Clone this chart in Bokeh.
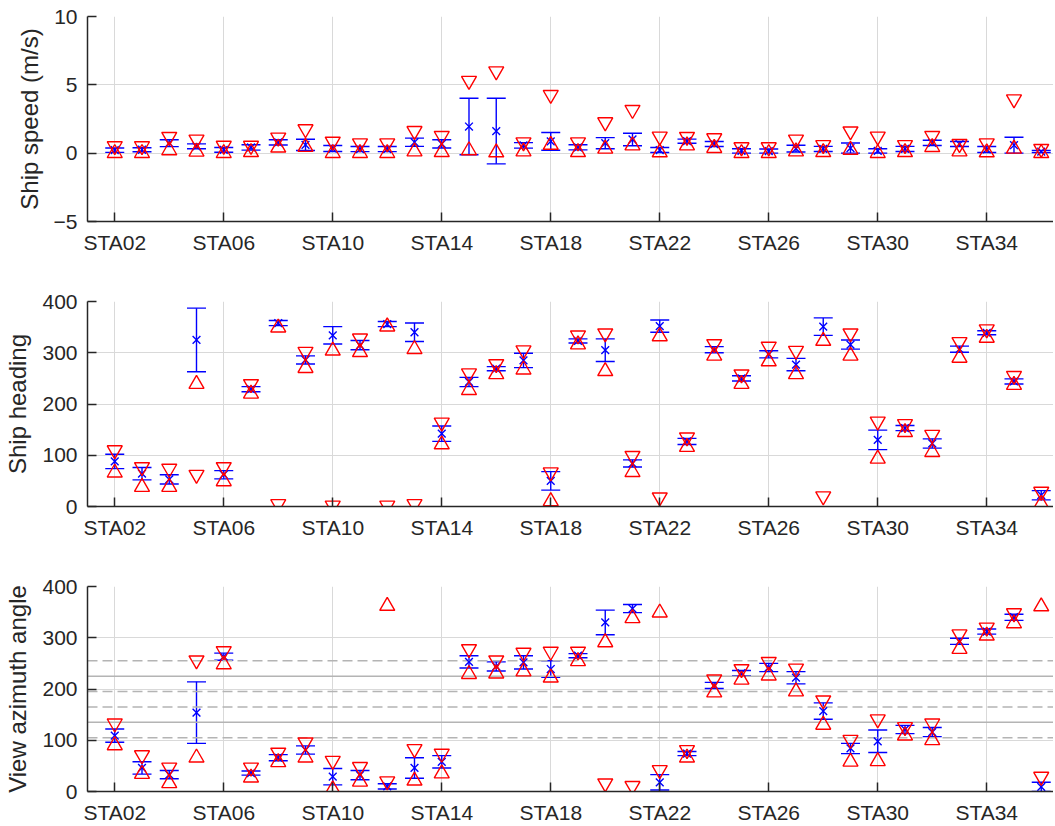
from bokeh.plotting import figure
from bokeh.layouts import column
from bokeh.models import Range1d, FixedTicker, Whisker, TeeHead, ColumnDataSource, Span
from bokeh.embed import file_html
from bokeh.resources import INLINE

stations = ["STA02", "STA03", "STA04", "STA05", "STA06", "STA07", "STA08", "STA09",
            "STA10", "STA11", "STA12", "STA13", "STA14", "STA15", "STA16", "STA17",
            "STA18", "STA19", "STA20", "STA21", "STA22", "STA23", "STA24", "STA25",
            "STA26", "STA27", "STA28", "STA29", "STA30", "STA31", "STA32", "STA33",
            "STA34", "STA35", "STA36"]
tick_labels = ["STA02", "STA06", "STA10", "STA14", "STA18", "STA22", "STA26", "STA30", "STA34"]

# Ship speed (m/s)
speed_mean = [0.22, 0.25, 0.73, 0.50, 0.24, 0.42, 0.79, 0.61, 0.34, 0.30, 0.30, 0.80,
              0.68, 1.95, 1.62, 0.57, 0.86, 0.43, 0.73, 1.00, 0.23, 0.88, 0.67, 0.16,
              0.15, 0.33, 0.31, 0.37, 0.16, 0.31, 0.75, 0.67, 0.27, 0.58, 0.12]
speed_std = [0.16, 0.15, 0.25, 0.18, 0.17, 0.20, 0.19, 0.41, 0.22, 0.19, 0.19, 0.30,
             0.30, 2.07, 2.40, 0.20, 0.65, 0.19, 0.41, 0.46, 0.18, 0.15, 0.18, 0.16,
             0.15, 0.25, 0.19, 0.37, 0.16, 0.19, 0.19, 0.18, 0.22, 0.58, 0.08]
speed_min = [0.00, 0.00, 0.20, 0.10, 0.00, 0.07, 0.40, 0.45, 0.00, 0.00, 0.00, 0.12,
             0.07, 0.20, 0.05, 0.12, 0.60, 0.07, 0.32, 0.56, 0.05, 0.56, 0.37, 0.00,
             0.00, 0.12, 0.07, 0.24, 0.00, 0.07, 0.44, 0.12, 0.05, 0.32, 0.00]
speed_max = [0.52, 0.52, 1.20, 1.00, 0.55, 0.55, 1.15, 1.76, 0.85, 0.73, 0.73, 1.63,
             1.27, 5.30, 6.00, 0.80, 4.27, 0.80, 2.27, 3.17, 1.22, 1.20, 1.10, 0.44,
             0.44, 1.00, 0.60, 1.60, 1.22, 0.60, 1.27, 0.68, 0.73, 3.95, 0.32]

# Ship heading
head_mean = [88, 64, 53, 325, 62, 229, 358, 286, 334, 315, 356, 340, 142, 243, 269, 285,
             50, 323, 305, 84, 352, 127, 306, 250, 297, 277, 351, 316, 130, 153, 123, 307,
             339, 244, 22]
head_std = [14, 12, 9, 62, 8, 5, 5, 8, 17, 9, 5, 18, 15, 9, 4, 14,
            18, 4, 22, 7, 12, 6, 6, 5, 7, 12, 17, 9, 19, 5, 9, 6,
            4, 5, 9]
head_min = [66, 38, 38, 239, 49, 220, 349, 270, 304, 301, 351, 307, 121, 227, 258, 267,
            10, 316, 264, 67, 332, 116, 294, 239, 283, 258, 323, 294, 93, 145, 106, 290,
            329, 237, 5]
head_max = [110, 77, 74, 62, 77, 239, 5, 302, 2, 328, 2, 5, 164, 260, 278, 305,
            67, 334, 338, 99, 18, 135, 317, 258, 312, 304, 20, 338, 166, 161, 140, 321,
            346, 255, 29]

# View azimuth angle
az_mean = [109, 46, 33, 154, 263, 36, 66, 81, 29, 32, 10, 46, 58, 253, 244, 252,
           239, 265, 330, 357, 18, 74, 207, 231, 242, 222, 157, 84, 98, 121, 116, 293,
           312, 340, 9]
az_std = [13, 12, 8, 60, 7, 4, 6, 8, 16, 9, 5, 20, 12, 12, 9, 13,
          16, 4, 24, 8, 15, 4, 6, 5, 8, 12, 16, 10, 22, 8, 9, 6,
          5, 6, 9]
az_min = [90, 34, 16, 66, 248, 27, 57, 66, 4, 19, 362, 21, 35, 229, 230, 234,
          222, 254, 291, 338, 349, 66, 193, 218, 226, 195, 130, 58, 59, 109, 100, 278,
          304, 328, 361]
az_max = [133, 71, 47, 256, 274, 47, 76, 96, 60, 48, 20, 83, 74, 278, 256, 271,
          273, 273, 16, 11, 42, 81, 219, 239, 253, 240, 178, 101, 141, 126, 133, 307,
          320, 348, 29]

az_ref_solid = [135, 225]
az_ref_dashed = [105, 165, 195, 255]

FONT = "Liberation Sans"
TXT = "#262626"

x_pos = [int(s[3:]) for s in stations]
tick_pos = [int(s[3:]) for s in tick_labels]


def make_panel(ylabel, mean, std, vmin, vmax, yr, yticks, bottom_border):
    p = figure(frame_width=966, frame_height=205,
               x_range=Range1d(1, 36.45), y_range=Range1d(*yr),
               output_backend="svg", toolbar_location=None,
               min_border_left=87, min_border_right=0, min_border_top=16,
               min_border_bottom=bottom_border)
    p.outline_line_color = None
    p.background_fill_color = "white"
    p.border_fill_color = "white"

    p.xaxis.ticker = FixedTicker(ticks=tick_pos, minor_ticks=[])
    p.xaxis.major_label_overrides = {t: l for t, l in zip(tick_pos, tick_labels)}
    p.yaxis.ticker = FixedTicker(ticks=yticks, minor_ticks=[])
    for ax in (p.xaxis, p.yaxis):
        ax.axis_line_color = TXT
        ax.axis_line_width = 1.5
        ax.major_tick_line_color = TXT
        ax.major_tick_line_width = 1.5
        ax.major_tick_in = 9
        ax.major_tick_out = 0
        ax.minor_tick_line_color = None
        ax.major_label_text_font = FONT
        ax.major_label_text_font_size = "21px"
        ax.major_label_text_color = TXT
        ax.axis_label_text_font = FONT
        ax.axis_label_text_font_size = "24px"
        ax.axis_label_text_font_style = "normal"
        ax.axis_label_text_color = TXT
    p.xaxis.major_label_standoff = 9
    p.yaxis.major_label_standoff = 10
    p.yaxis.axis_label = ylabel
    p.yaxis.axis_label_standoff = 8

    p.xgrid.grid_line_color = "#d9d9d9"
    p.ygrid.grid_line_color = "#d9d9d9"
    p.xgrid.grid_line_width = 1
    p.ygrid.grid_line_width = 1

    src = ColumnDataSource(dict(
        x=x_pos,
        mean=mean,
        lo=[m - s for m, s in zip(mean, std)],
        hi=[m + s for m, s in zip(mean, std)],
        vmin=vmin,
        vmax=vmax,
    ))
    w = Whisker(base="x", upper="hi", lower="lo", source=src,
                line_color="blue", line_width=1.4, level="underlay",
                upper_head=TeeHead(size=19, line_color="blue", line_width=1.4),
                lower_head=TeeHead(size=19, line_color="blue", line_width=1.4))
    p.add_layout(w)
    p.scatter("x", "mean", source=src, marker="x", size=11,
              line_color="blue", line_width=1.4)
    p.scatter("x", "vmax", source=src, marker="inverted_triangle", size=15,
              fill_color=None, line_color="red", line_width=1.4)
    p.scatter("x", "vmin", source=src, marker="triangle", size=15,
              fill_color=None, line_color="red", line_width=1.4)
    return p


p1 = make_panel("Ship speed (m/s)", speed_mean, speed_std, speed_min, speed_max,
                (-5, 10), [-5, 0, 5, 10], 64)
p2 = make_panel("Ship heading", head_mean, head_std, head_min, head_max,
                (0, 400), [0, 100, 200, 300, 400], 64)
p3 = make_panel("View azimuth angle", az_mean, az_std, az_min, az_max,
                (0, 400), [0, 100, 200, 300, 400], 33)

for v in az_ref_solid:
    p3.add_layout(Span(location=v, dimension="width", line_color="#b4b4b4",
                       line_width=1.5, level="underlay"))
for v in az_ref_dashed:
    p3.add_layout(Span(location=v, dimension="width", line_color="#b4b4b4",
                       line_width=1.5, line_dash="10 5", level="underlay"))

layout = column(p1, p2, p3, spacing=0)
open("out.html", "w").write(file_html(layout, INLINE))
